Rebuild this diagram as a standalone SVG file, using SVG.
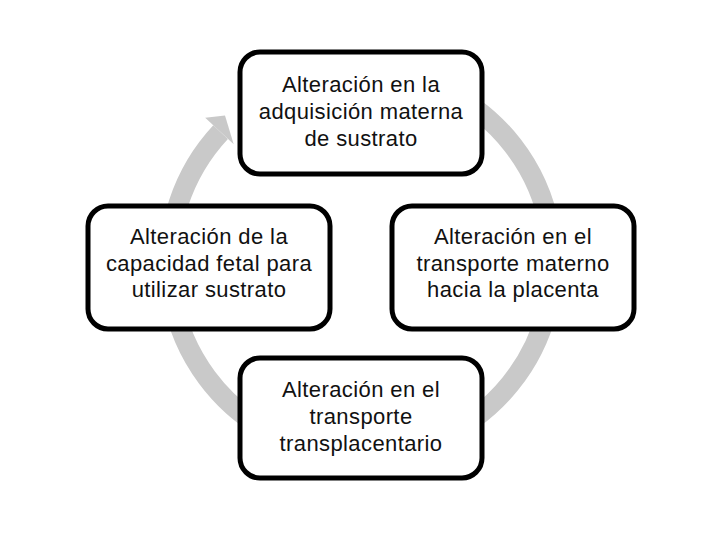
<svg xmlns="http://www.w3.org/2000/svg" width="720" height="540" viewBox="0 0 720 540">
  <style>
    .box { fill: #ffffff; stroke: #000000; stroke-width: 5; }
    .lbl { font-family: "Liberation Sans", Arial, sans-serif; font-size: 22px; letter-spacing: 0.4px; fill: #111111; text-anchor: middle; }
    .ring { fill: none; stroke: #c9c9c9; stroke-width: 20; }
    .head { fill: #c9c9c9; }
  </style>
  <rect width="720" height="540" fill="#ffffff"/>
  <g id="connectors">
    <path class="ring" d="M 361 71 A 192 192 0 1 1 220.6 132.1"/>
    <polygon class="head" points="205.2,117.7 225,115.5 233.7,144.3"/>
  </g>
  <g id="node-top">
    <rect class="box" x="240" y="52" width="242" height="122" rx="20" ry="20"/>
    <text class="lbl" x="361" y="92">Alteración en la</text>
    <text class="lbl" x="361" y="119">adquisición materna</text>
    <text class="lbl" x="361" y="146">de sustrato</text>
  </g>
  <g id="node-right">
    <rect class="box" x="392" y="206" width="242" height="123" rx="20" ry="20"/>
    <text class="lbl" x="513" y="244">Alteración en el</text>
    <text class="lbl" x="513" y="271">transporte materno</text>
    <text class="lbl" x="513" y="297">hacia la placenta</text>
  </g>
  <g id="node-bottom">
    <rect class="box" x="240" y="358" width="242" height="120" rx="20" ry="20"/>
    <text class="lbl" x="361" y="397">Alteración en el</text>
    <text class="lbl" x="361" y="424">transporte</text>
    <text class="lbl" x="361" y="451">transplacentario</text>
  </g>
  <g id="node-left">
    <rect class="box" x="88" y="206" width="242" height="123" rx="20" ry="20"/>
    <text class="lbl" x="209" y="244">Alteración de la</text>
    <text class="lbl" x="209" y="271">capacidad fetal para</text>
    <text class="lbl" x="209" y="297">utilizar sustrato</text>
  </g>
</svg>
